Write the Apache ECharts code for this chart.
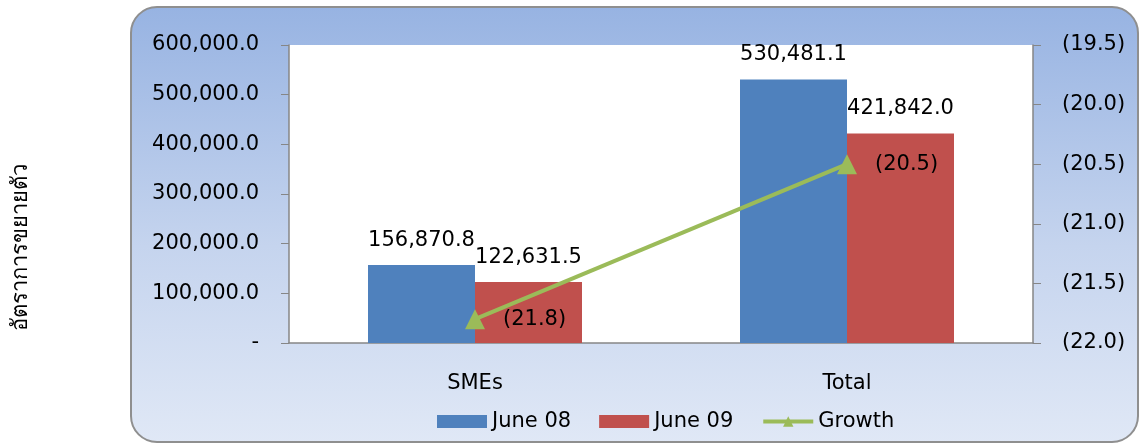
<!DOCTYPE html>
<html>
<head>
<meta charset="utf-8">
<script src="https://cdn.jsdelivr.net/npm/echarts@6/dist/echarts.min.js"></script>
<style>
  html, body { margin: 0; padding: 0; background: #fff; }
  #chart { width: 1141px; height: 446px; }
</style>
</head>
<body>
<div id="chart"></div>
<script>
const categories = ['SMEs', 'Total'];
const june08 = [156870.8, 530481.1];
const june09 = [122631.5, 421842.0];
const growth = [-21.8, -20.5];
const yTitle = 'อัตราการขยายตัว';

const font = 'DejaVu Sans';
const gray = '#868686';
const fs = 21;

function fmtNum(v) {
    if (v === 0) return '-';
    return v.toLocaleString('en-US', { minimumFractionDigits: 1, maximumFractionDigits: 1 });
}
function fmtPct(v) {
    return '(' + Math.abs(v).toFixed(1) + ')';
}

const chart = echarts.init(document.getElementById('chart'));
const option = {
    animation: false,
    textStyle: { fontFamily: font },
    graphic: [
        {
            type: 'rect',
            z: -10,
            shape: { x: 131, y: 7, width: 1007, height: 435, r: 26 },
            style: {
                fill: new echarts.graphic.LinearGradient(0, 0, 0, 1, [
                    { offset: 0, color: '#97b3e2' },
                    { offset: 0.55, color: '#c5d4ee' },
                    { offset: 1, color: '#e0e8f6' }
                ]),
                stroke: '#8f8f8f',
                lineWidth: 2
            }
        },
        {
            type: 'text',
            x: 21,
            y: 247,
            rotation: Math.PI / 2,
            style: {
                text: yTitle,
                font: '22px "Noto Sans", "DejaVu Sans", sans-serif',
                fill: '#000',
                align: 'center',
                verticalAlign: 'middle'
            }
        }
    ],
    grid: {
        left: 289, right: 108, top: 45, bottom: 103,
        show: true, backgroundColor: '#fff', borderWidth: 0
    },
    legend: {
        top: 406,
        left: 432,
        itemWidth: 50,
        itemHeight: 13,
        itemGap: 28,
        textStyle: { fontSize: fs, color: '#000', fontFamily: font },
        data: [
            { name: 'June 08', icon: 'rect' },
            { name: 'June 09', icon: 'rect' },
            { name: 'Growth', lineStyle: { width: 4, color: '#9bbb59' } }
        ]
    },
    xAxis: {
        type: 'category',
        data: categories,
        axisLine: { lineStyle: { color: gray, width: 1.5 } },
        axisTick: { length: 9, lineStyle: { color: gray } },
        axisLabel: { margin: 30, fontSize: fs, color: '#000' }
    },
    yAxis: [
        {
            type: 'value',
            min: 0, max: 600000, interval: 100000,
            axisLine: { show: true, lineStyle: { color: gray, width: 1.5 } },
            axisTick: { show: true, length: 8, lineStyle: { color: gray } },
            splitLine: { show: false },
            axisLabel: { margin: 30, fontSize: fs, color: '#000', formatter: fmtNum }
        },
        {
            type: 'value',
            min: -22, max: -19.5, interval: 0.5,
            axisLine: { show: true, lineStyle: { color: gray, width: 1.5 } },
            axisTick: { show: true, length: 8, lineStyle: { color: gray } },
            splitLine: { show: false },
            axisLabel: { margin: 29, fontSize: fs, color: '#000', formatter: fmtPct }
        }
    ],
    series: [
        {
            name: 'June 08',
            type: 'bar',
            data: june08,
            barWidth: 107,
            barGap: 0,
            itemStyle: { color: '#4f81bd' },
            label: {
                show: true, position: 'top', distance: 14,
                fontSize: fs, color: '#000', formatter: p => fmtNum(p.value)
            }
        },
        {
            name: 'June 09',
            type: 'bar',
            data: june09,
            barWidth: 107,
            itemStyle: { color: '#c0504d' },
            label: {
                show: true, position: 'top', distance: 14,
                fontSize: fs, color: '#000', formatter: p => fmtNum(p.value)
            }
        },
        {
            name: 'Growth',
            type: 'line',
            yAxisIndex: 1,
            data: growth,
            symbol: 'triangle',
            symbolSize: 20,
            lineStyle: { color: '#9bbb59', width: 4 },
            itemStyle: { color: '#9bbb59' },
            label: {
                show: true, position: 'right', distance: 18,
                fontSize: fs, color: '#000', formatter: p => fmtPct(p.value)
            },
            z: 5
        }
    ]
};
chart.setOption(option);
</script>
</body>
</html>
